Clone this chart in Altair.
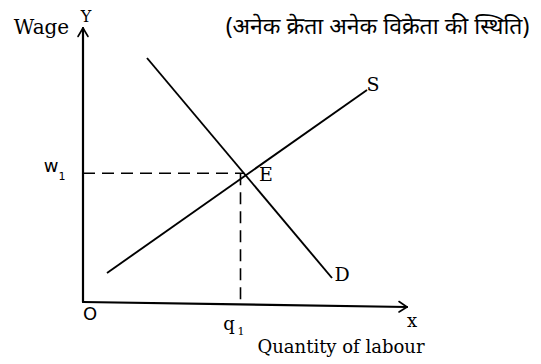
import altair as alt
import pandas as pd

# economic-diagram coordinates (1 unit = 25 px), origin O at (0, 0)
supply_q = [0.96, 11.36]
supply_w = [1.16, 8.48]
demand_q = [2.56, 9.96]
demand_w = [9.76, 0.96]
eq_q = 6.45
eq_w = 5.15
q1_foot = 6.3

# axes (with slight tilt of the scanned x axis) and open arrowheads
axis_x1 = [0.0, 0.0, 0.0, 0.0, 12.96, 12.96]
axis_y1 = [0.0, 10.96, 10.96, 0.0, -0.2, -0.2]
axis_x2 = [0.0, -0.2, 0.2, 12.96, 12.64, 12.64]
axis_y2 = [10.96, 10.62, 10.62, -0.2, 0.02, -0.40]
axis_w = [2.2, 1.6, 1.6, 2.2, 1.6, 1.6]

label_text = ["Wage", "Y", "(अनेक क्रेता अनेक विक्रेता की स्थिति)", "w", "1", "E", "S", "D",
              "O", "q", "1", "x", "Quantity of labour"]
label_x = [-1.66, 0.12, 11.78, -1.28, -0.84, 7.32, 11.6, 10.36, 0.28, 5.84, 6.32, 13.16, 10.32]
label_y = [10.98, 11.42, 11.02, 5.42, 5.02, 5.08, 8.68, 1.08, -0.52, -0.92, -1.2, -0.8, -1.82]
label_size = [20, 16, 23, 18, 11, 19, 19, 19, 18, 18, 11, 18, 18]
label_font = ["DejaVu Serif", "DejaVu Serif", "Noto Sans", "DejaVu Sans", "DejaVu Sans",
              "DejaVu Serif", "DejaVu Serif", "DejaVu Serif", "DejaVu Sans", "DejaVu Serif",
              "DejaVu Serif", "DejaVu Serif", "DejaVu Serif"]

XD = [-3, 18]
YD = [-2.36, 11.56]
xs = alt.Scale(domain=XD, nice=False, zero=False)
ys = alt.Scale(domain=YD, nice=False, zero=False)

axes_df = pd.DataFrame({"x": axis_x1, "y": axis_y1, "x2": axis_x2, "y2": axis_y2, "w": axis_w})
curves_df = pd.DataFrame({
    "x": [supply_q[0], demand_q[0]], "y": [supply_w[0], demand_w[0]],
    "x2": [supply_q[1], demand_q[1]], "y2": [supply_w[1], demand_w[1]],
})
dash_df = pd.DataFrame({
    "x": [0.0, q1_foot], "y": [eq_w, eq_w], "x2": [eq_q, q1_foot], "y2": [eq_w, 0.0],
})
lab_df = pd.DataFrame({"t": label_text, "x": label_x, "y": label_y, "s": label_size, "f": label_font})

def seg(df, **mk):
    return alt.Chart(df).mark_rule(color="black", **mk).encode(
        x=alt.X("x:Q", scale=xs, axis=None),
        y=alt.Y("y:Q", scale=ys, axis=None),
        x2="x2:Q", y2="y2:Q",
    )

axes = alt.Chart(axes_df).mark_rule(color="black", strokeCap="round").encode(
    x=alt.X("x:Q", scale=xs, axis=None),
    y=alt.Y("y:Q", scale=ys, axis=None),
    x2="x2:Q", y2="y2:Q",
    strokeWidth=alt.StrokeWidth("w:Q", scale=None, legend=None),
)
curves = seg(curves_df, strokeWidth=1.9)
dashes = seg(dash_df, strokeWidth=1.6, strokeDash=[12, 7])

texts = []
for font in sorted(set(label_font)):
    sub = lab_df[lab_df["f"] == font]
    texts.append(
        alt.Chart(sub).mark_text(color="black", font=font, align="center", baseline="middle").encode(
            x=alt.X("x:Q", scale=xs, axis=None),
            y=alt.Y("y:Q", scale=ys, axis=None),
            text="t:N",
            size=alt.Size("s:Q", scale=None, legend=None),
        )
    )

chart = alt.layer(axes, curves, dashes, *texts).properties(
    width=525, height=348, padding=0, background="white"
).configure_view(stroke=None)

chart.save("out.html", embed_options={"renderer": "svg", "actions": False})
